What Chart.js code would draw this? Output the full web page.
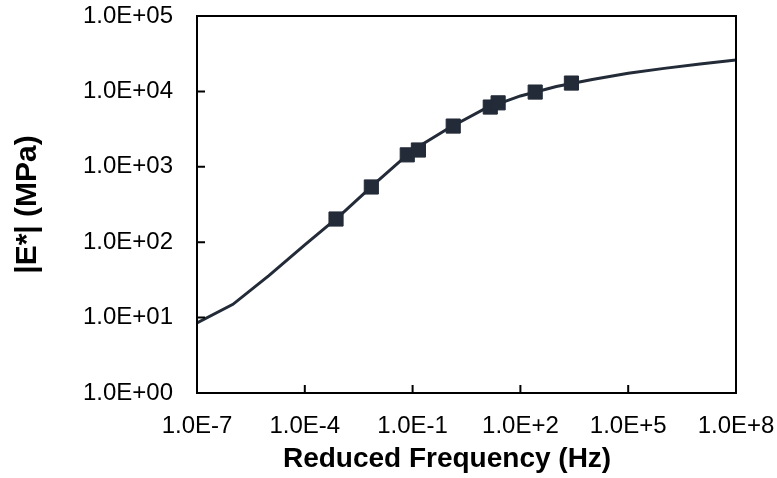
<!DOCTYPE html>
<html>
<head>
<meta charset="utf-8">
<script src="https://cdn.jsdelivr.net/npm/chart.js@4.4.1/dist/chart.umd.min.js"></script>
<style>
  body { margin: 0; background: #fff; }
  canvas { display: block; }
</style>
</head>
<body>
<canvas id="myChart" width="777" height="478"></canvas>
<script>
// master curve (fitted), one value per decade
var curveFreq = [1e-7, 1e-6, 1e-5, 1e-4, 1e-3, 1e-2, 1e-1, 1e0, 1e1, 1e2, 1e3, 1e4, 1e5, 1e6, 1e7, 1e8];
var curveModulus = [8.5, 15, 36, 92, 230, 630, 1660, 3250, 5850, 8700, 11600, 14400, 17400, 20200, 23100, 26100];

// measured points
var testFreq = [7.4e-4, 7.1e-3, 0.071, 0.145, 1.35, 14.5, 24, 258, 2630];
var testModulus = [203, 540, 1440, 1670, 3470, 6200, 7050, 9800, 12900];

// tick labels
var xTicks = [1e-7, 1e-4, 1e-1, 1e2, 1e5, 1e8];
var xTickLabels = ["1.0E-7", "1.0E-4", "1.0E-1", "1.0E+2", "1.0E+5", "1.0E+8"];
var yTicks = [1e0, 1e1, 1e2, 1e3, 1e4, 1e5];
var yTickLabels = ["1.0E+00", "1.0E+01", "1.0E+02", "1.0E+03", "1.0E+04", "1.0E+05"];

var ink = "#232b38";

// box round the plot and inward tick marks
var frame = {
  id: "frame",
  afterDraw: function (chart) {
    var ctx = chart.ctx;
    var a = chart.chartArea;
    var xs = chart.scales.x;
    var ys = chart.scales.y;
    ctx.save();
    ctx.strokeStyle = "#000";
    ctx.lineWidth = 2;
    ctx.strokeRect(a.left, a.top, a.right - a.left, a.bottom - a.top);
    ctx.beginPath();
    xTicks.forEach(function (v) {
      var px = xs.getPixelForValue(v);
      ctx.moveTo(px, a.bottom);
      ctx.lineTo(px, a.bottom - 8);
    });
    yTicks.forEach(function (v) {
      var py = ys.getPixelForValue(v);
      ctx.moveTo(a.left, py);
      ctx.lineTo(a.left + 8, py);
    });
    ctx.stroke();
    ctx.restore();
  }
};

var font = "'Liberation Sans', Arial, sans-serif";

var ctx = document.getElementById("myChart").getContext("2d");
var chart = new Chart(ctx, {
  type: "scatter",
  data: {
    datasets: [
      {
        label: "Measured",
        data: testFreq.map(function (f, i) { return { x: f, y: testModulus[i] }; }),
        pointStyle: "rect",
        pointRadius: 10,
        pointBackgroundColor: ink,
        pointBorderColor: ink,
        pointBorderWidth: 1,
        showLine: false
      },
      {
        label: "Master curve",
        data: curveFreq.map(function (f, i) { return { x: f, y: curveModulus[i] }; }),
        showLine: true,
        borderColor: ink,
        borderWidth: 3,
        pointRadius: 0,
        tension: 0,
        fill: false
      }
    ]
  },
  options: {
    responsive: false,
    animation: false,
    layout: { padding: { top: 16, right: 41, left: 0, bottom: 0 } },
    plugins: {
      legend: { display: false },
      tooltip: { enabled: false }
    },
    scales: {
      x: {
        type: "logarithmic",
        min: 1e-7,
        max: 1e8,
        afterBuildTicks: function (scale) {
          scale.ticks = xTicks.map(function (v) { return { value: v }; });
        },
        afterFit: function (scale) {
          scale.height = 85;
          scale.paddingLeft = 0;
          scale.paddingRight = 0;
        },
        ticks: {
          autoSkip: false,
          maxRotation: 0,
          padding: 19,
          color: "#000",
          font: { family: font, size: 24 },
          callback: function (v) { return xTickLabels[xTicks.indexOf(v)]; }
        },
        grid: { display: false, drawTicks: false },
        border: { display: false },
        title: {
          display: true,
          // trailing spaces nudge the centred title left, as in the original
          text: "Reduced Frequency (Hz)\u00a0\u00a0\u00a0\u00a0\u00a0",
          color: "#000",
          font: { family: font, size: 28, weight: "bold" },
          padding: { top: 0, bottom: 2 }
        }
      },
      y: {
        type: "logarithmic",
        min: 1,
        max: 1e5,
        afterBuildTicks: function (scale) {
          scale.ticks = yTicks.map(function (v) { return { value: v }; });
        },
        afterFit: function (scale) {
          scale.width = 197;
          scale.paddingTop = 0;
          scale.paddingBottom = 0;
        },
        ticks: {
          autoSkip: false,
          padding: 24,
          color: "#000",
          font: { family: font, size: 24 },
          callback: function (v) { return yTickLabels[yTicks.indexOf(v)]; }
        },
        grid: { display: false, drawTicks: false },
        border: { display: false },
        title: {
          display: true,
          text: "|E*| (MPa)",
          color: "#000",
          font: { family: font, size: 30, weight: "bold" },
          padding: { top: 10, bottom: 0 }
        }
      }
    }
  },
  plugins: [frame]
});
</script>
</body>
</html>
